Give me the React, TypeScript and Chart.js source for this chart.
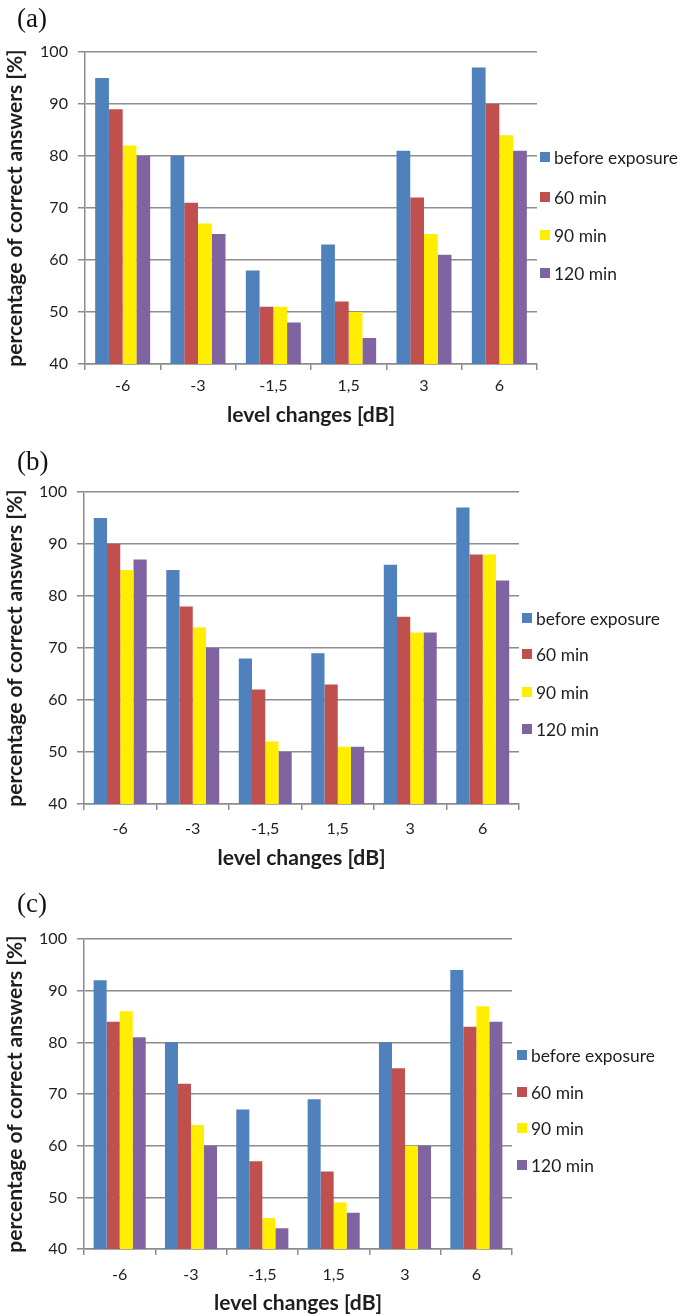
import React, { useEffect, useRef } from "react";
import { Chart, registerables } from "chart.js";

Chart.register(...registerables);

// ---------- data ----------
const categories = ["-6", "-3", "-1,5", "1,5", "3", "6"];
const seriesLabels = ["before exposure", "60 min", "90 min", "120 min"];
const seriesColors = ["#4F81BD", "#C0504D", "#FFEE00", "#8064A2"];

const aBefore = [95, 80, 58, 63, 81, 97];
const a60 = [89, 71, 51, 52, 72, 90];
const a90 = [82, 67, 51, 50, 65, 84];
const a120 = [80, 65, 48, 45, 61, 81];

const bBefore = [95, 85, 68, 69, 86, 97];
const b60 = [90, 78, 62, 63, 76, 88];
const b90 = [85, 74, 52, 51, 73, 88];
const b120 = [87, 70, 50, 51, 73, 83];

const cBefore = [92, 80, 67, 69, 80, 94];
const c60 = [84, 72, 57, 55, 75, 83];
const c90 = [86, 64, 46, 49, 60, 87];
const c120 = [81, 60, 44, 47, 60, 84];

const yMin = 40;
const yMax = 100;
const yStep = 10;
const yTitle = "percentage of correct answers [%]";
const xTitle = "level changes [dB]";

// ---------- layout / style ----------
const W = 682;
const FAMILY = "Lato";
const FONT = "Lato, 'Liberation Sans', sans-serif";
const SERIF = "'Liberation Serif', serif";
const GRID = "#8c8c8c";
const TEXT = "#1e1e1e";

// target rendered text widths measured on the reference (px)
const TARGET_TICK_100 = 28;
const TARGET_LEGEND = 124;
const TARGET_XTITLE = 168;
const TARGET_YTITLE = 318;
const TARGET_TAG = 30;

function fitSize(text: string, weight: string, family: string, target: number) {
  const c = document.createElement("canvas");
  const ctx = c.getContext("2d")!;
  ctx.font = `${weight} 100px ${family}`;
  const w = ctx.measureText(text).width;
  if (!w) return 16;
  return Math.round((100 * target / w) * 10) / 10;
}

// all y positions below are page coordinates
const panels = [
  {
    tag: "(a)",
    series: [aBefore, a60, a90, a120],
    top: 0,
    height: 440,
    area: { left: 85, right: 537, top: 52, bottom: 364 },
    tagY: 20,
    labelCenter: 386,
    titleCenter: 415,
    legendX: 540,
    legendYs: [157, 197, 235, 273],
  },
  {
    tag: "(b)",
    series: [bBefore, b60, b90, b120],
    top: 440,
    height: 440,
    area: { left: 84, right: 519, top: 52, bottom: 364 },
    tagY: 463,
    labelCenter: 829,
    titleCenter: 858,
    legendX: 522,
    legendYs: [618, 654, 692, 729],
  },
  {
    tag: "(c)",
    series: [cBefore, c60, c90, c120],
    top: 880,
    height: 436,
    area: { left: 84, right: 512, top: 59, bottom: 369 },
    tagY: 905,
    labelCenter: 1275,
    titleCenter: 1304,
    legendX: 517,
    legendYs: [1055, 1092, 1128, 1165],
  },
];

const decorPlugin = {
  id: "panelDecor",
  afterDraw(chart: any, _args: any, opts: any) {
    const ctx = chart.ctx;
    ctx.save();
    ctx.textBaseline = "middle";
    ctx.textAlign = "left";
    ctx.fillStyle = "#111";
    ctx.font = `${opts.tagSize}px ${SERIF}`;
    ctx.fillText(opts.tag, 17, opts.tagY - opts.top);
    ctx.font = `${opts.legendSize}px ${FONT}`;
    chart.data.datasets.forEach((ds: any, i: number) => {
      const y = opts.legendYs[i] - opts.top;
      ctx.fillStyle = ds.backgroundColor;
      ctx.fillRect(opts.legendX, y - 5, 10, 10);
      ctx.fillStyle = TEXT;
      ctx.fillText(ds.label, opts.legendX + 14, y + 1);
    });
    ctx.restore();
  },
};

function Panel({ cfg }: { cfg: any }) {
  const ref = useRef<HTMLCanvasElement | null>(null);
  useEffect(() => {
    if (!ref.current) return;
    const tickSize = fitSize("100", "normal", FAMILY, TARGET_TICK_100);
    const legendSize = fitSize(seriesLabels[0], "normal", FAMILY, TARGET_LEGEND);
    const xTitleSize = fitSize(xTitle, "bold", FAMILY, TARGET_XTITLE);
    const yTitleSize = fitSize(yTitle, "bold", FAMILY, TARGET_YTITLE);
    const tagSize = fitSize("(a)", "normal", "'Liberation Serif'", TARGET_TAG);

    const tickLen = 6;
    const tickLH = tickSize * 1.2;
    const labelCenterLocal = cfg.labelCenter - cfg.top;
    const titleCenterLocal = cfg.titleCenter - cfg.top;
    const labelPad = Math.max(0, labelCenterLocal - cfg.area.bottom - tickLen - tickLH / 2);
    const xTitleLH = xTitleSize * 1.2;
    const titlePadBottom = Math.max(0, cfg.height - titleCenterLocal - xTitleLH / 2);
    const yTitleLH = yTitleSize * 1.2;
    const yTitlePadTop = Math.max(0, 15 - yTitleLH / 2);

    const chart = new Chart(ref.current, {
      type: "bar",
      data: {
        labels: categories,
        datasets: cfg.series.map((vals: number[], i: number) => ({
          label: seriesLabels[i],
          data: vals,
          backgroundColor: seriesColors[i],
          borderWidth: 0,
          categoryPercentage: 0.73,
          barPercentage: 1.0,
        })),
      },
      options: {
        responsive: false,
        animation: false,
        devicePixelRatio: 1,
        layout: {
          padding: {
            left: 0,
            top: cfg.area.top,
            right: W - cfg.area.right,
            bottom: 0,
          },
        },
        plugins: {
          legend: { display: false },
          tooltip: { enabled: false },
          panelDecor: {
            tag: cfg.tag,
            tagY: cfg.tagY,
            tagSize,
            legendSize,
            legendX: cfg.legendX,
            legendYs: cfg.legendYs,
            top: cfg.top,
          },
        } as any,
        scales: {
          x: {
            type: "category",
            offset: true,
            grid: {
              display: true,
              offset: true,
              drawOnChartArea: false,
              drawTicks: true,
              tickLength: tickLen,
              color: GRID,
              lineWidth: 1.5,
            },
            border: { display: true, color: GRID, width: 1.5 },
            ticks: {
              color: TEXT,
              font: { family: FONT, size: tickSize },
              padding: labelPad,
              maxRotation: 0,
              autoSkip: false,
            },
            title: {
              display: true,
              text: xTitle,
              color: TEXT,
              font: { family: FONT, size: xTitleSize, weight: "bold" },
              padding: { top: 0, bottom: titlePadBottom },
            },
            afterFit: (scale: any) => {
              scale.height = cfg.height - cfg.area.bottom;
            },
          },
          y: {
            type: "linear",
            min: yMin,
            max: yMax,
            beginAtZero: false,
            grid: {
              display: true,
              drawTicks: true,
              tickLength: 7,
              color: GRID,
              lineWidth: 1.5,
            },
            border: { display: true, color: GRID, width: 1.5 },
            ticks: {
              stepSize: yStep,
              color: TEXT,
              font: { family: FONT, size: tickSize },
              padding: 10,
            },
            title: {
              display: true,
              text: yTitle,
              color: TEXT,
              font: { family: FONT, size: yTitleSize, weight: "bold" },
              padding: { top: yTitlePadTop, bottom: 0 },
            },
            afterFit: (scale: any) => {
              scale.width = cfg.area.left;
            },
          },
        },
      },
      plugins: [decorPlugin],
    });
    return () => chart.destroy();
  }, []);
  return (
    <canvas
      ref={ref}
      width={W}
      height={cfg.height}
      style={{ position: "absolute", left: 0, top: cfg.top, width: W, height: cfg.height }}
    />
  );
}

export default function App() {
  return (
    <div
      style={{
        position: "absolute",
        left: 0,
        top: 0,
        width: W,
        height: 1316,
        background: "#fff",
        overflow: "hidden",
      }}
    >
      {panels.map((p) => (
        <Panel key={p.tag} cfg={p} />
      ))}
    </div>
  );
}
